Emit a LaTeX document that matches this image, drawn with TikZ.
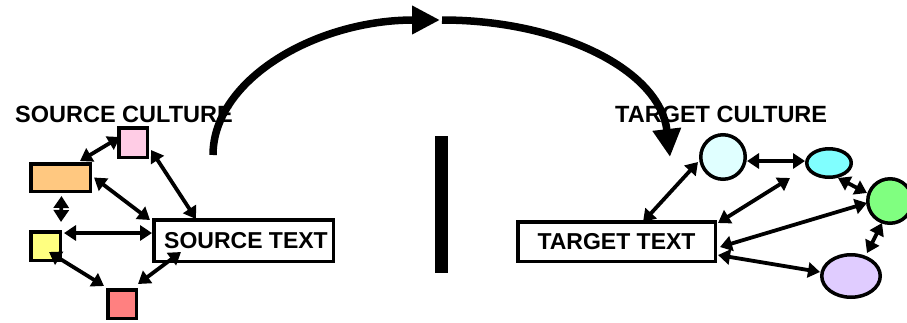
\documentclass[tikz,border=0pt]{standalone}
\usepackage{fontspec}
\setmainfont{Liberation Sans}
\usetikzlibrary{arrows.meta,shapes.geometric,calc}
\begin{document}
\begin{tikzpicture}[x=1pt,y=-1pt,
  lbl/.style={font=\fontsize{23.5}{28}\selectfont\bfseries, inner sep=0pt},
  sq/.style={draw, line width=3.5pt, inner sep=0pt, rectangle},
  ov/.style={draw, line width=3.5pt, inner sep=0pt, ellipse},
  txtbox/.style={draw, line width=3.5pt, inner sep=0pt, rectangle, font=\fontsize{23}{28}\selectfont\bfseries},
  link/.style={line width=3.8pt, {Triangle[length=12pt,width=15pt]}-{Triangle[length=12pt,width=15pt]}},
  bigarrow/.style={line width=7.5pt, -{Triangle[length=28pt,width=27pt]}},
]
\useasboundingbox (0,0) rectangle (907,322);

% source side
\node[lbl, anchor=base west] (sclabel) at (15,122) {SOURCE CULTURE};
\node[sq, fill={rgb,255:red,255;green,204;blue,229}, minimum width=28.5pt, minimum height=29.5pt] (pink) at (133,142.5) {};
\node[sq, fill={rgb,255:red,255;green,200;blue,128}, minimum width=59.5pt, minimum height=27.5pt] (orange) at (60.5,177.5) {};
\node[sq, fill={rgb,255:red,255;green,255;blue,128}, minimum width=29.5pt, minimum height=28.5pt] (yellow) at (45.5,246) {};
\node[sq, fill={rgb,255:red,255;green,128;blue,128}, minimum width=28.5pt, minimum height=28.5pt] (red) at (122,304) {};
\node[txtbox, fill=white, minimum width=179.5pt, minimum height=41.5pt] (source) at (243.5,240.5) {\hspace*{5pt}SOURCE TEXT};

% target side
\node[lbl, anchor=base west] (tclabel) at (615,122) {TARGET CULTURE};
\node[txtbox, fill=white, minimum width=197.5pt, minimum height=39.5pt] (target) at (616.5,241.5) {TARGET TEXT};
\node[ov, fill={rgb,255:red,224;green,255;blue,255}, minimum width=44.5pt, minimum height=44.5pt] (lcyan) at (723,157) {};
\node[ov, fill={rgb,255:red,128;green,255;blue,255}, minimum width=44.5pt, minimum height=28.5pt] (cyan) at (829,163) {};
\node[ov, fill={rgb,255:red,128;green,255;blue,128}, minimum width=44.5pt, minimum height=44.5pt] (green) at (890,201) {};
\node[ov, fill={rgb,255:red,224;green,204;blue,255}, minimum width=58.5pt, minimum height=42.5pt] (lav) at (851,276) {};

% source links
\draw[link] ($(pink.west)+(3,-5.5)$) -- ($(orange.north west)+(51,-1)$);
\draw[link] ($(pink.east)+(2,7.5)$) -- ($(source.north west)+(44,1)$);
\draw[link] ($(orange.east)+(2,0)$) -- ($(source.north west)+(-2,2)$);
\draw[link] ($(orange.south)+(1,3)$) -- ($(yellow.north east)+(-1,-8)$);
\draw[link] ($(yellow.north east)+(2,3)$) -- ($(source.north west)+(0,15)$);
\draw[link] ($(yellow.center)+(3.5,6)$) -- ($(red.north west)+(-2,-2)$);
\draw[link] ($(red.north east)+(0,-4)$) -- ($(source.south west)+(29,-11)$);

% target links
\draw[link] ($(target.north west)+(127,2)$) -- ($(lcyan.center)+(-25,5)$);
\draw[link] ($(lcyan.center)+(24,4)$) -- ($(cyan.west)+(0,-2)$);
\draw[link] ($(target.north east)+(1,3)$) -- ($(cyan.center)+(-39,15)$);
\draw[link] ($(cyan.center)+(9,15)$) -- ($(green.center)+(-23,-8)$);
\draw[link] ($(target.east)+(3,5.5)$) -- ($(green.center)+(-23,2)$);
\draw[link] ($(green.center)+(-8,22)$) -- ($(lav.center)+(16,-23)$);
\draw[link] ($(target.east)+(1,13.5)$) -- ($(lav.west)+(0,-4)$);

% big arc arrows
\coordinate (a0) at (213,155);
\coordinate (a1) at (440,20);
\coordinate (b0) at (442,20);
\coordinate (b1) at (670,157);
\draw[bigarrow] (a0) .. controls (213,80) and (315,20) .. (a1);
\draw[bigarrow] (b0) .. controls (560,20) and (660,70) .. (b1);

% divider bar
\coordinate (bartop) at (441.5,136);
\coordinate (barbot) at (441.5,273);
\draw[line width=12.5pt] (bartop) -- (barbot);
\end{tikzpicture}
\end{document}
